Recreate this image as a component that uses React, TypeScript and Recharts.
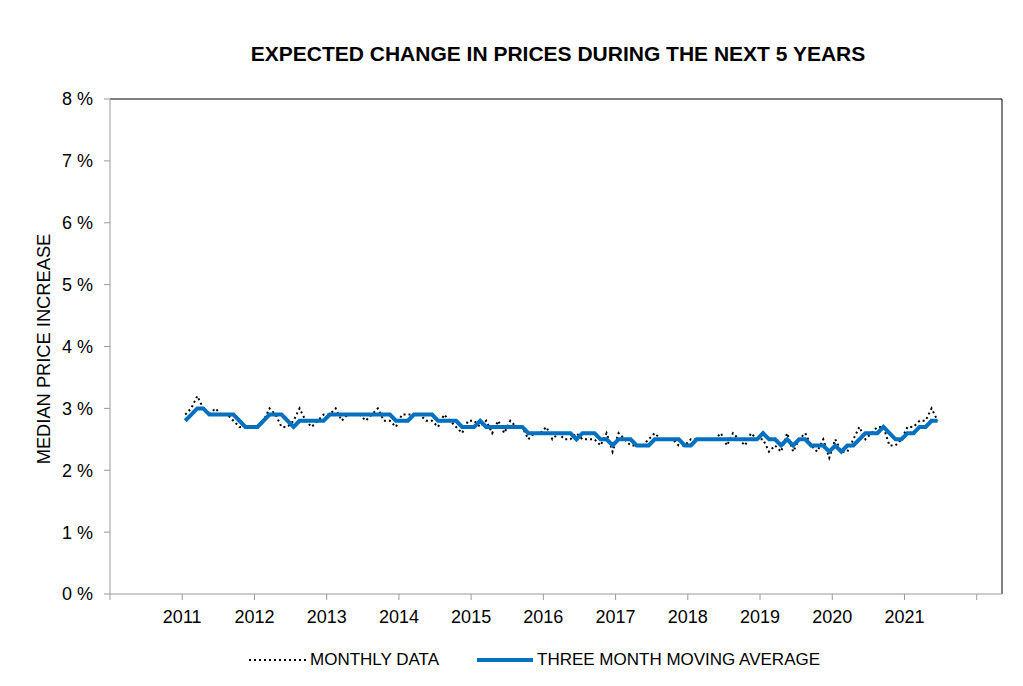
import React from 'react';
import { LineChart, Line, XAxis, YAxis, ReferenceLine } from 'recharts';

// monthly readings, Jan 2011 .. Jun 2021 (percent)
const monthlyData = [
  2.9, 3.0, 3.2, 3.0, 2.9, 3.0, 2.9, 2.9, 2.8, 2.7,
  2.7, 2.7, 2.7, 2.8, 3.0, 2.9, 2.7, 2.7, 2.8, 3.0,
  2.8, 2.7, 2.8, 2.9, 2.9, 3.0, 2.8, 2.9, 2.9, 2.9,
  2.8, 2.9, 3.0, 2.8, 2.8, 2.7, 2.9, 2.9, 2.9, 2.9,
  2.8, 2.8, 2.7, 2.9, 2.8, 2.7, 2.6, 2.8, 2.8, 2.7,
  2.8, 2.6, 2.8, 2.6, 2.8, 2.7, 2.7, 2.5, 2.6, 2.6,
  2.7, 2.5, 2.6, 2.5, 2.5, 2.6, 2.5, 2.5, 2.5, 2.4,
  2.6, 2.3, 2.6, 2.5, 2.4, 2.4, 2.4, 2.5, 2.6, 2.5,
  2.5, 2.5, 2.4, 2.4, 2.5, 2.5, 2.5, 2.5, 2.5, 2.6,
  2.4, 2.6, 2.5, 2.4, 2.6, 2.5, 2.5, 2.3, 2.4, 2.3,
  2.6, 2.3, 2.5, 2.6, 2.4, 2.3, 2.5, 2.2, 2.5, 2.3,
  2.3, 2.5, 2.7, 2.5, 2.6, 2.7, 2.7, 2.4, 2.4, 2.5,
  2.7, 2.7, 2.8, 2.8, 3.0, 2.8,
];

const movingAverage = [
  2.8, 2.9, 3.0, 3.0, 2.9, 2.9, 2.9, 2.9, 2.9, 2.8,
  2.7, 2.7, 2.7, 2.8, 2.9, 2.9, 2.9, 2.8, 2.7, 2.8,
  2.8, 2.8, 2.8, 2.8, 2.9, 2.9, 2.9, 2.9, 2.9, 2.9,
  2.9, 2.9, 2.9, 2.9, 2.9, 2.8, 2.8, 2.8, 2.9, 2.9,
  2.9, 2.9, 2.8, 2.8, 2.8, 2.8, 2.7, 2.7, 2.7, 2.8,
  2.7, 2.7, 2.7, 2.7, 2.7, 2.7, 2.7, 2.6, 2.6, 2.6,
  2.6, 2.6, 2.6, 2.6, 2.6, 2.5, 2.6, 2.6, 2.6, 2.5,
  2.5, 2.4, 2.5, 2.5, 2.5, 2.4, 2.4, 2.4, 2.5, 2.5,
  2.5, 2.5, 2.5, 2.4, 2.4, 2.5, 2.5, 2.5, 2.5, 2.5,
  2.5, 2.5, 2.5, 2.5, 2.5, 2.5, 2.6, 2.5, 2.5, 2.4,
  2.5, 2.4, 2.5, 2.5, 2.4, 2.4, 2.4, 2.3, 2.4, 2.3,
  2.4, 2.4, 2.5, 2.6, 2.6, 2.6, 2.7, 2.6, 2.5, 2.5,
  2.6, 2.6, 2.7, 2.7, 2.8, 2.8,
];

const startYear = 2011;
const yearTicks = [2010, 2011, 2012, 2013, 2014, 2015, 2016, 2017, 2018, 2019, 2020, 2021, 2022];
const percentTicks = [0, 1, 2, 3, 4, 5, 6, 7, 8];

// each month sits in the middle of its slot on the year axis
const data = monthlyData.map((v, i) => ({
  t: startYear + (i + 0.5) / 12,
  monthly: v,
  avg: movingAverage[i],
}));

const BLUE = '#0070C0';
const AXIS_GREY = '#9a9a9a';
const X_MAX = 2022.35;

export default function App() {
  return (
    <div
      style={{
        position: 'relative',
        width: 1007,
        height: 670,
        fontFamily: '"Liberation Sans", Arial, sans-serif',
        color: '#000',
      }}
    >
      <div
        style={{
          position: 'absolute',
          top: 36,
          left: 0,
          width: 1100,
          textAlign: 'center',
          fontSize: 21,
          lineHeight: '20px',
          fontWeight: 'bold',
        }}
      >
        EXPECTED CHANGE IN PRICES DURING THE NEXT 5 YEARS
      </div>

      <div
        style={{
          position: 'absolute',
          left: 35.5 - 160,
          top: 341 - 10,
          width: 320,
          height: 20,
          lineHeight: '20px',
          fontSize: 18.3,
          textAlign: 'center',
          transform: 'rotate(-90deg)',
          whiteSpace: 'nowrap',
        }}
      >
        MEDIAN PRICE INCREASE
      </div>

      <LineChart
        width={1007}
        height={670}
        data={data}
        margin={{ top: 91, right: 13, left: 42, bottom: 44 }}
      >
        <XAxis
          dataKey="t"
          type="number"
          domain={[2010, X_MAX]}
          ticks={yearTicks}
          interval={0}
          tickFormatter={(v) => (v === 2010 || v === 2022 ? '' : String(v))}
          tick={{ fill: '#000', fontSize: 18 }}
          stroke={AXIS_GREY}
          tickSize={6}
          tickMargin={10}
          height={40}
        />
        <YAxis
          type="number"
          domain={[0, 8]}
          ticks={percentTicks}
          interval={0}
          tickFormatter={(v) => `${v} %`}
          tick={{ fill: '#000', fontSize: 18 }}
          stroke={AXIS_GREY}
          tickSize={6}
          tickMargin={11}
          width={60}
        />
        <ReferenceLine y={8} stroke="#000" strokeWidth={1} />
        <ReferenceLine x={X_MAX} stroke="#000" strokeWidth={1} />
        <Line
          type="linear"
          dataKey="monthly"
          stroke="#000"
          strokeWidth={2}
          strokeDasharray="2 3"
          dot={false}
          activeDot={false}
          isAnimationActive={false}
        />
        <Line
          type="linear"
          dataKey="avg"
          stroke={BLUE}
          strokeWidth={4}
          dot={false}
          activeDot={false}
          isAnimationActive={false}
        />
      </LineChart>

      {/* legend */}
      <div
        style={{
          position: 'absolute',
          top: 652 - 10,
          left: 0,
          height: 20,
          width: 1007,
          fontSize: 17,
          lineHeight: '20px',
        }}
      >
        <svg style={{ position: 'absolute', left: 241, top: 0 }} width={58} height={20}>
          <line x1={0} y1={10} x2={58} y2={10} stroke="#000" strokeWidth={2} strokeDasharray="2 3" />
        </svg>
        <span style={{ position: 'absolute', left: 302, top: 0, whiteSpace: 'nowrap' }}>
          MONTHLY DATA
        </span>
        <svg style={{ position: 'absolute', left: 469, top: 0 }} width={56} height={20}>
          <line x1={0} y1={10} x2={56} y2={10} stroke={BLUE} strokeWidth={4} />
        </svg>
        <span style={{ position: 'absolute', left: 529, top: 0, whiteSpace: 'nowrap' }}>
          THREE MONTH MOVING AVERAGE
        </span>
      </div>
    </div>
  );
}
